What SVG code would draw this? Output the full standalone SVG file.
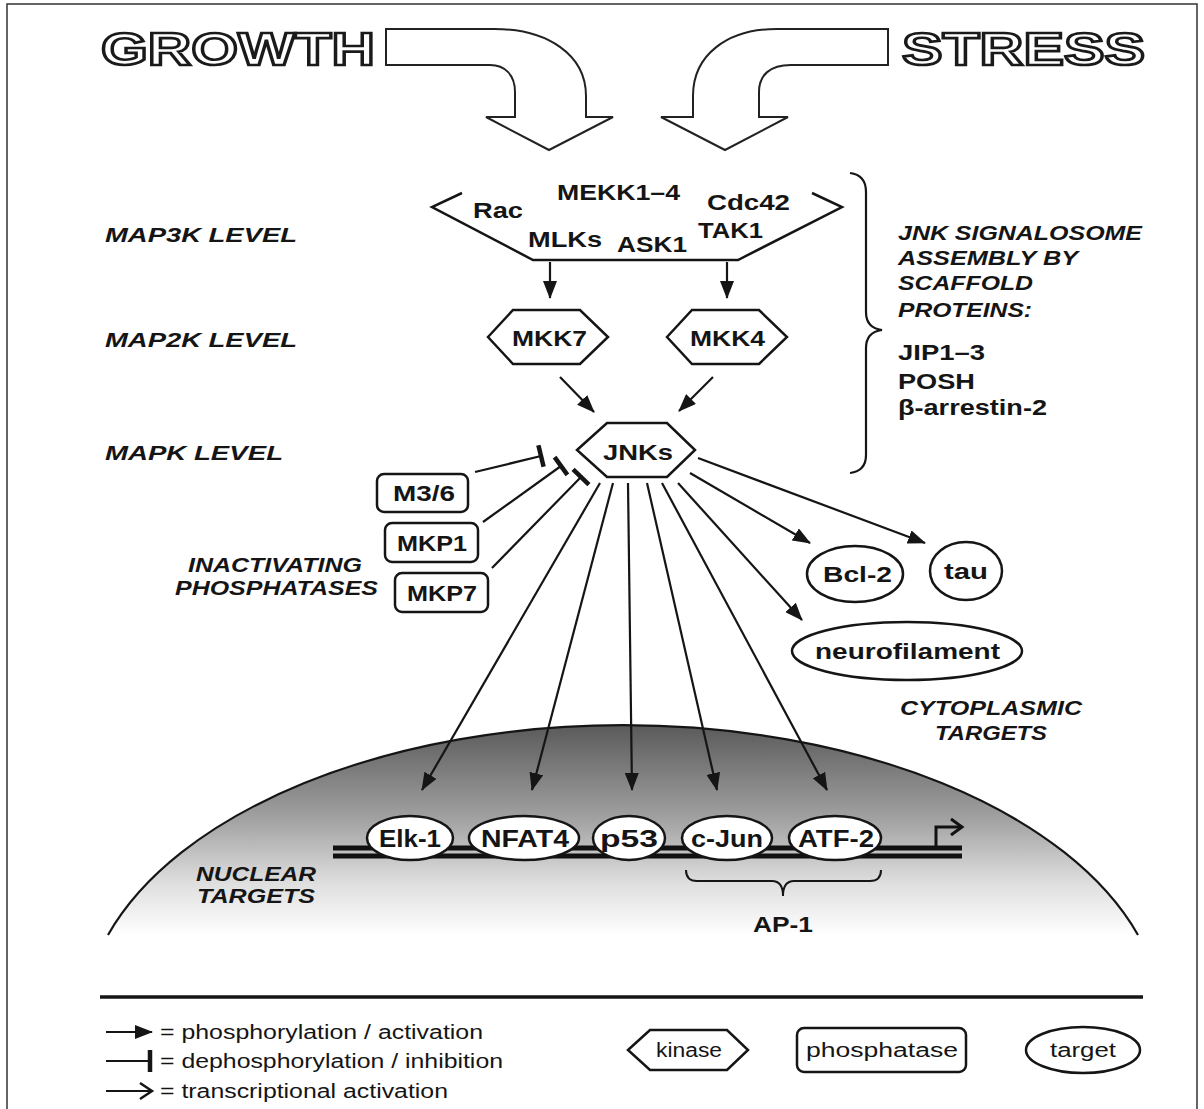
<svg xmlns="http://www.w3.org/2000/svg" width="1204" height="1109" viewBox="0 0 1204 1109">
<style>
  text { font-family: "Liberation Sans", Arial, sans-serif; fill: #151515; }
  .b { font-weight: bold; font-size: 22px; }
  .bi { font-weight: bold; font-style: italic; font-size: 21px; }
  .reg { font-size: 20px; }
  .big { font-weight: bold; font-size: 46px; fill: #fff; stroke: #1a1a1a; stroke-width: 2.7; }
  .tgt { font-weight: bold; font-size: 24px; }
  .shape { fill: #fff; stroke: #151515; stroke-width: 2.5; }
  .conn { stroke: #151515; stroke-width: 2.2; fill: none; }
  .inh { stroke: #151515; stroke-width: 4.5; fill: none; }
  .bigarrow { fill: #fff; stroke: #222; stroke-width: 2; stroke-linejoin: miter; }
</style>
<defs>
  <marker id="ah" markerUnits="userSpaceOnUse" markerWidth="18" markerHeight="14" refX="17" refY="7" orient="auto">
    <path d="M0,0 L18,7 L0,14 z" fill="#151515"/>
  </marker>
  <linearGradient id="nuc" gradientUnits="userSpaceOnUse" x1="0" y1="725" x2="0" y2="935">
    <stop offset="0" stop-color="#5a5a5a"/>
    <stop offset="0.45" stop-color="#a2a2a2"/>
    <stop offset="0.75" stop-color="#dedede"/>
    <stop offset="1" stop-color="#ffffff"/>
  </linearGradient>
</defs>
<rect x="0" y="0" width="1204" height="1109" fill="#fff"/>
<rect x="7" y="4" width="1190" height="1112" fill="none" stroke="#333" stroke-width="1.5"/>

<!-- Nucleus -->
<g id="nucleus">
  <path d="M108,935 A540,300 0 0 1 1138,935 Z" fill="url(#nuc)" stroke="none"/>
  <path d="M108,935 A540,300 0 0 1 1138,935" fill="none" stroke="#151515" stroke-width="2.2"/>
  <text class="bi" x="196" y="881" textLength="120" lengthAdjust="spacingAndGlyphs">NUCLEAR</text>
  <text class="bi" x="197" y="903" textLength="118" lengthAdjust="spacingAndGlyphs">TARGETS</text>
</g>

<g id="dna">
  <line x1="333" y1="848" x2="962" y2="848" stroke="#111" stroke-width="5"/>
  <line x1="333" y1="856" x2="962" y2="856" stroke="#111" stroke-width="5"/>
  <polyline points="936,846 936,827 960,827" fill="none" stroke="#111" stroke-width="3"/>
  <polyline points="951,819 962,827 951,835" fill="none" stroke="#111" stroke-width="3"/>
</g>

<!-- Big input arrows -->
<g id="growth">
  <text class="big" x="101" y="65" textLength="274" lengthAdjust="spacingAndGlyphs">GROWTH</text>
  <path class="bigarrow" d="M386,29 L494,29 C548,29 586,55 586,96 L586,117 L613,117 L549,150 L486,117 L515,117 L515,92 C515,75 505,65 490,65 L386,65 Z"/>
</g>
<g id="stress">
  <text class="big" x="902" y="65" textLength="243" lengthAdjust="spacingAndGlyphs">STRESS</text>
  <path class="bigarrow" d="M888,29 L777,29 C727,29 693,55 693,96 L693,117 L661,117 L725,150 L788,117 L759,117 L759,92 C759,75 770,65 791,65 L888,65 Z"/>
</g>

<!-- Level labels -->
<g id="levels">
  <text class="bi" x="105" y="242" textLength="192" lengthAdjust="spacingAndGlyphs">MAP3K LEVEL</text>
  <text class="bi" x="105" y="347" textLength="192" lengthAdjust="spacingAndGlyphs">MAP2K LEVEL</text>
  <text class="bi" x="105" y="460" textLength="178" lengthAdjust="spacingAndGlyphs">MAPK LEVEL</text>
</g>

<!-- MAP3K -->
<g id="map3k">
  <polyline class="shape" points="462,193 432,207 533,260 738,260 842,207 812,193" style="fill:none"/>
  <text class="b" x="473" y="218" textLength="50" lengthAdjust="spacingAndGlyphs">Rac</text>
  <text class="b" x="557" y="200" textLength="123" lengthAdjust="spacingAndGlyphs">MEKK1–4</text>
  <text class="b" x="707" y="210" textLength="83" lengthAdjust="spacingAndGlyphs">Cdc42</text>
  <text class="b" x="528" y="247" textLength="74" lengthAdjust="spacingAndGlyphs">MLKs</text>
  <text class="b" x="617" y="252" textLength="70" lengthAdjust="spacingAndGlyphs">ASK1</text>
  <text class="b" x="698" y="238" textLength="65" lengthAdjust="spacingAndGlyphs">TAK1</text>
</g>

<g id="mkk7">
  <polygon class="shape" points="488,337 513,310 580,310 608,337 580,364 513,364"/>
  <text class="b" x="512" y="346" textLength="75" lengthAdjust="spacingAndGlyphs">MKK7</text>
</g>
<g id="mkk4">
  <polygon class="shape" points="667,337 692,310 759,310 787,337 759,364 692,364"/>
  <text class="b" x="690" y="346" textLength="75" lengthAdjust="spacingAndGlyphs">MKK4</text>
</g>
<g id="jnks">
  <polygon class="shape" points="577,450 607,423 667,423 695,450 667,477 607,477"/>
  <text class="b" x="603" y="460" textLength="70" lengthAdjust="spacingAndGlyphs">JNKs</text>
</g>

<!-- Scaffold -->
<g id="scaffold">
  <path d="M850,173 Q866,175 866,192 L866,312 Q866,328 882,330 Q866,332 866,348 L866,455 Q866,471 850,473" fill="none" stroke="#151515" stroke-width="2.2"/>
  <text class="bi" x="898" y="240" textLength="244" lengthAdjust="spacingAndGlyphs">JNK SIGNALOSOME</text>
  <text class="bi" x="898" y="265" textLength="180" lengthAdjust="spacingAndGlyphs">ASSEMBLY BY</text>
  <text class="bi" x="898" y="290" textLength="135" lengthAdjust="spacingAndGlyphs">SCAFFOLD</text>
  <text class="bi" x="898" y="317" textLength="134" lengthAdjust="spacingAndGlyphs">PROTEINS:</text>
  <text class="b" x="898" y="360" textLength="87" lengthAdjust="spacingAndGlyphs">JIP1–3</text>
  <text class="b" x="898" y="389" textLength="77" lengthAdjust="spacingAndGlyphs">POSH</text>
  <text class="b" x="898" y="415" textLength="149" lengthAdjust="spacingAndGlyphs">β-arrestin-2</text>
</g>

<!-- Phosphatases -->
<g id="m36">
  <rect class="shape" x="377" y="474" width="91" height="38" rx="7"/>
  <text class="b" x="393" y="501" textLength="62" lengthAdjust="spacingAndGlyphs">M3/6</text>
</g>
<g id="mkp1">
  <rect class="shape" x="385" y="523" width="93" height="39" rx="7"/>
  <text class="b" x="397" y="551" textLength="70" lengthAdjust="spacingAndGlyphs">MKP1</text>
</g>
<g id="mkp7">
  <rect class="shape" x="395" y="573" width="93" height="39" rx="7"/>
  <text class="b" x="407" y="601" textLength="70" lengthAdjust="spacingAndGlyphs">MKP7</text>
</g>
<g id="phos-label">
  <text class="bi" x="188" y="572" textLength="174" lengthAdjust="spacingAndGlyphs">INACTIVATING</text>
  <text class="bi" x="175" y="595" textLength="203" lengthAdjust="spacingAndGlyphs">PHOSPHATASES</text>
</g>

<!-- Cytoplasmic targets -->
<g id="bcl2">
  <ellipse class="shape" cx="855" cy="574" rx="48" ry="28"/>
  <text class="b" x="823" y="582" textLength="69" lengthAdjust="spacingAndGlyphs">Bcl-2</text>
</g>
<g id="tau">
  <ellipse class="shape" cx="966" cy="571" rx="36" ry="29"/>
  <text class="b" x="944" y="579" textLength="44" lengthAdjust="spacingAndGlyphs">tau</text>
</g>
<g id="neurofilament">
  <ellipse class="shape" cx="907" cy="651" rx="115" ry="29"/>
  <text class="b" x="815" y="659" textLength="185" lengthAdjust="spacingAndGlyphs">neurofilament</text>
</g>
<g id="cyto-label">
  <text class="bi" x="900" y="715" textLength="182" lengthAdjust="spacingAndGlyphs">CYTOPLASMIC</text>
  <text class="bi" x="935" y="740" textLength="112" lengthAdjust="spacingAndGlyphs">TARGETS</text>
</g>

<!-- Nuclear targets -->
<g id="elk1">
  <ellipse class="shape" cx="410" cy="838" rx="43" ry="22"/>
  <text class="tgt" x="410" y="847" text-anchor="middle" textLength="62" lengthAdjust="spacingAndGlyphs">Elk-1</text>
</g>
<g id="nfat4">
  <ellipse class="shape" cx="524" cy="838" rx="55" ry="22"/>
  <text class="tgt" x="525" y="847" text-anchor="middle" textLength="88" lengthAdjust="spacingAndGlyphs">NFAT4</text>
</g>
<g id="p53">
  <ellipse class="shape" cx="629" cy="838" rx="36" ry="22"/>
  <text class="tgt" x="629" y="847" text-anchor="middle" textLength="58" lengthAdjust="spacingAndGlyphs">p53</text>
</g>
<g id="cjun">
  <ellipse class="shape" cx="727" cy="838" rx="45" ry="22"/>
  <text class="tgt" x="727" y="847" text-anchor="middle" textLength="72" lengthAdjust="spacingAndGlyphs">c-Jun</text>
</g>
<g id="atf2">
  <ellipse class="shape" cx="835" cy="838" rx="46" ry="22"/>
  <text class="tgt" x="836" y="847" text-anchor="middle" textLength="76" lengthAdjust="spacingAndGlyphs">ATF-2</text>
</g>
<g id="ap1">
  <path d="M686,870 Q686,881 697,881 L772,881 Q783,881 783,896 Q783,881 794,881 L870,881 Q881,881 881,870" fill="none" stroke="#151515" stroke-width="2"/>
  <text class="b" x="753" y="932" textLength="60" lengthAdjust="spacingAndGlyphs">AP-1</text>
</g>

<!-- Connectors -->
<g id="connectors">
  <line class="conn" x1="550" y1="262" x2="550" y2="298" marker-end="url(#ah)"/>
  <line class="conn" x1="727" y1="262" x2="727" y2="298" marker-end="url(#ah)"/>
  <line class="conn" x1="560" y1="377" x2="594" y2="412" marker-end="url(#ah)"/>
  <line class="conn" x1="713" y1="377" x2="679" y2="411" marker-end="url(#ah)"/>
  <!-- inhibitions -->
  <line class="conn" x1="475" y1="472" x2="541" y2="456"/>
  <line class="inh" x1="538.4" y1="445.3" x2="543.6" y2="466.7"/>
  <line class="conn" x1="483" y1="522" x2="561" y2="466"/>
  <line class="inh" x1="554.6" y1="457.1" x2="567.4" y2="474.9"/>
  <line class="conn" x1="492" y1="568" x2="581" y2="477"/>
  <line class="inh" x1="573.1" y1="469.3" x2="588.9" y2="484.7"/>
  <!-- fan to nuclear -->
  <line class="conn" x1="600" y1="483" x2="422" y2="790" marker-end="url(#ah)"/>
  <line class="conn" x1="613" y1="483" x2="532" y2="790" marker-end="url(#ah)"/>
  <line class="conn" x1="628" y1="483" x2="632" y2="790" marker-end="url(#ah)"/>
  <line class="conn" x1="647" y1="483" x2="717" y2="790" marker-end="url(#ah)"/>
  <line class="conn" x1="662" y1="483" x2="827" y2="790" marker-end="url(#ah)"/>
  <!-- cytoplasmic -->
  <line class="conn" x1="678" y1="483" x2="802" y2="620" marker-end="url(#ah)"/>
  <line class="conn" x1="690" y1="473" x2="810" y2="543" marker-end="url(#ah)"/>
  <line class="conn" x1="698" y1="458" x2="925" y2="543" marker-end="url(#ah)"/>
</g>

<!-- Legend -->
<g id="legend">
  <line x1="100" y1="997" x2="1143" y2="997" stroke="#151515" stroke-width="3.5"/>
  <line class="conn" x1="106" y1="1032" x2="152" y2="1032" marker-end="url(#ah)"/>
  <line class="conn" x1="106" y1="1061" x2="150" y2="1061"/>
  <line class="inh" x1="150" y1="1050" x2="150" y2="1072"/>
  <line class="conn" x1="106" y1="1091" x2="152" y2="1091"/>
  <polyline points="140,1083 152,1091 140,1099" fill="none" stroke="#151515" stroke-width="2.5"/>
  <text class="reg" x="160" y="1039" textLength="323" lengthAdjust="spacingAndGlyphs">= phosphorylation / activation</text>
  <text class="reg" x="160" y="1068" textLength="343" lengthAdjust="spacingAndGlyphs">= dephosphorylation / inhibition</text>
  <text class="reg" x="160" y="1098" textLength="288" lengthAdjust="spacingAndGlyphs">= transcriptional activation</text>
  <g id="legend-kinase">
    <polygon class="shape" points="628,1050 650,1030 727,1030 748,1050 727,1070 650,1070"/>
    <text class="reg" x="689" y="1057" text-anchor="middle" textLength="66" lengthAdjust="spacingAndGlyphs">kinase</text>
  </g>
  <g id="legend-phosphatase">
    <rect class="shape" x="797" y="1028" width="169" height="44" rx="7"/>
    <text class="reg" x="882" y="1057" text-anchor="middle" textLength="152" lengthAdjust="spacingAndGlyphs">phosphatase</text>
  </g>
  <g id="legend-target">
    <ellipse class="shape" cx="1083" cy="1050" rx="57" ry="23"/>
    <text class="reg" x="1083" y="1057" text-anchor="middle" textLength="66" lengthAdjust="spacingAndGlyphs">target</text>
  </g>
</g>
</svg>
